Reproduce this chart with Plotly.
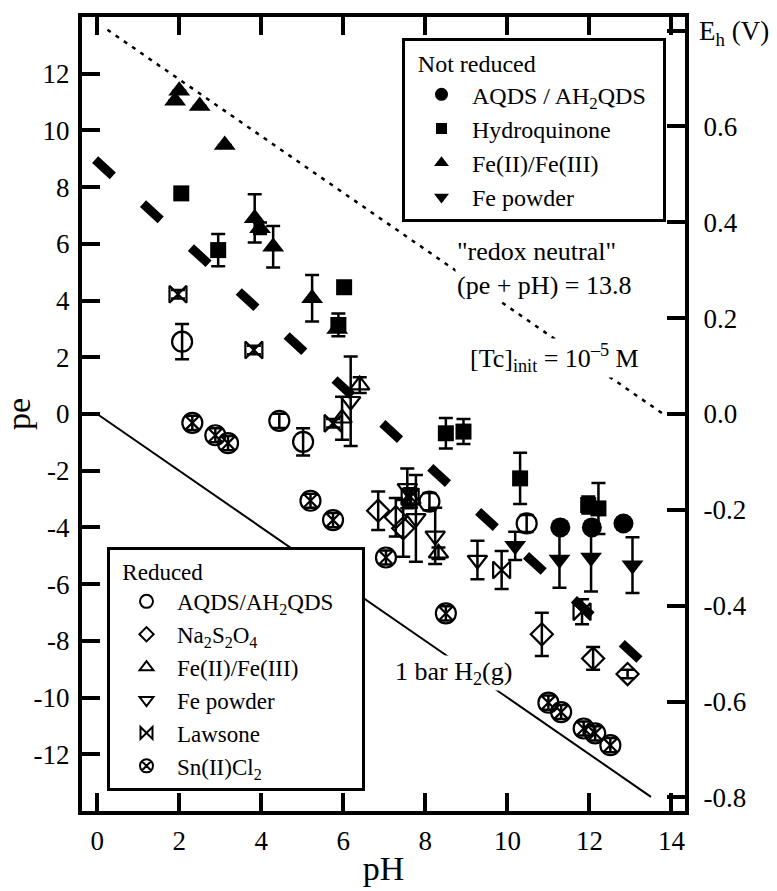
import plotly.graph_objects as go

FONT = "Liberation Serif, Times New Roman, serif"

# ---------------- data ----------------
# Not reduced (filled symbols)
aqds_nr_pH = [11.29, 12.06, 12.83]
aqds_nr_pe = [-4.0, -4.0, -3.86]

hq_pH = [2.05, 2.95, 5.88, 6.02, 8.50, 8.93, 10.31, 11.97, 12.22]
hq_pe = [7.78, 5.78, 3.14, 4.47, -0.68, -0.62, -2.27, -3.21, -3.33]
hq_err = [0.0, 0.57, 0.40, 0.0, 0.54, 0.44, 0.90, 0.30, 0.90]

fe_nr_pH = [1.90, 2.00, 2.50, 3.11, 3.84, 3.97, 4.29, 5.24, 5.85]
fe_nr_pe = [11.05, 11.40, 10.86, 9.49, 6.90, 6.55, 5.90, 4.08, 3.00]
fe_nr_err = [0.0, 0.0, 0.0, 0.0, 0.85, 0.20, 0.73, 0.82, 0.0]

fep_nr_pH = [10.19, 11.27, 12.04, 13.05]
fep_nr_pe = [-4.65, -5.13, -5.06, -5.33]
fep_nr_err = [0.50, 1.00, 1.20, 0.98]

# Reduced (open symbols)
aqds_r_pH = [2.07, 4.44, 5.02, 8.10, 10.47]
aqds_r_pe = [2.55, -0.24, -0.98, -3.09, -3.86]
aqds_r_err = [0.62, 0.25, 0.48, 0.30, 0.30]

na_pH = [6.85, 7.28, 7.46, 10.84, 12.09, 12.93]
na_pe = [-3.41, -3.64, -4.03, -7.77, -8.62, -9.17]
na_err = [0.68, 0.68, 1.00, 0.76, 0.40, 0.15]

fe_r_pH = [5.97, 6.40, 7.65, 8.32]
fe_r_pe = [-0.15, 1.02, -3.00, -4.91]
fe_r_err = [0.76, 0.28, 0.30, 0.20]

fep_r_pH = [6.18, 7.56, 7.77, 8.24, 9.27]
fep_r_pe = [0.45, -2.62, -3.68, -4.30, -5.15]
fep_r_err = [1.58, 0.70, 1.53, 0.99, 0.68]

law_pH = [1.97, 3.82, 5.75, 7.63, 9.86, 11.82]
law_pe = [4.22, 2.26, -0.33, -2.92, -5.50, -6.97]
law_err = [0.15, 0.15, 0.15, 0.30, 0.67, 0.44]

sn_pH = [2.32, 2.88, 3.19, 5.20, 5.75, 7.04, 8.50, 11.00, 11.31, 11.86, 12.14, 12.51]
sn_pe = [-0.31, -0.75, -1.03, -3.06, -3.74, -5.06, -7.03, -10.18, -10.51, -11.09, -11.26, -11.68]
sn_err = [0.25] * 12

# reference lines (end points)
neutral_pH = [0.25, 13.85]
neutral_pe = [13.55, -0.05]
h2_pH = [0.0, 13.5]
h2_pe = [0.0, -13.5]
tc_pH = [-0.05, 13.35]
tc_pe = [8.97, -8.83]

x_ticks = [0, 2, 4, 6, 8, 10, 12, 14]
pe_ticks = [-12, -10, -8, -6, -4, -2, 0, 2, 4, 6, 8, 10, 12]
eh_ticks = [-0.8, -0.6, -0.4, -0.2, 0.0, 0.2, 0.4, 0.6, 0.8]
EH_PER_PE = 0.05916

# ---------------- figure ----------------
W, H = 777, 891
ML, MR, MT, MB = 82, 92, 17, 80
PW, PH_ = W - ML - MR, H - MT - MB


def px(x):
    return (x - ML) / PW


def py(y):
    return (H - MB - y) / PH_


fig = go.Figure()


def add_series(xs, ys, errs, symbol, size, lw=0):
    ekw = None
    if errs is not None:
        ekw = dict(type="data", array=errs, visible=True, color="black",
                   thickness=2.5, width=7)
    fig.add_trace(go.Scatter(
        x=xs, y=ys, mode="markers", showlegend=False, error_y=ekw,
        marker=dict(symbol=symbol, size=size, color="black",
                    line=dict(color="black", width=lw)),
    ))


# reference lines underneath
fig.add_trace(go.Scatter(x=h2_pH, y=h2_pe, mode="lines", showlegend=False,
                         line=dict(color="black", width=2)))
fig.add_trace(go.Scatter(x=neutral_pH, y=neutral_pe, mode="lines", showlegend=False,
                         line=dict(color="black", width=2.5, dash="4px,6px")))

# reduced
add_series(aqds_r_pH, aqds_r_pe, aqds_r_err, "circle-open", 20, 2.2)
add_series(na_pH, na_pe, na_err, "diamond-open", 17, 2.2)
add_series(fe_r_pH, fe_r_pe, fe_r_err, "triangle-up-open", 17, 2.2)
add_series(fep_r_pH, fep_r_pe, fep_r_err, "triangle-down-open", 17, 2.2)
add_series(law_pH, law_pe, law_err, "bowtie-open", 17, 2.2)
add_series(sn_pH, sn_pe, sn_err, "circle-x-open", 20, 2.2)
# not reduced
add_series(aqds_nr_pH, aqds_nr_pe, None, "circle", 20)
add_series(hq_pH, hq_pe, hq_err, "square", 16)
add_series(fe_nr_pH, fe_nr_pe, fe_nr_err, "triangle-up", 19)
add_series(fep_nr_pH, fep_nr_pe, fep_nr_err, "triangle-down", 19)

# thick dashed Tc line on top
fig.add_trace(go.Scatter(x=tc_pH, y=tc_pe, mode="lines", showlegend=False,
                         line=dict(color="black", width=9, dash="24px,41px")))

# legend-only entries
NB = "\u00a0\u00a0"
leg1 = [("AQDS / AH<sub>2</sub>QDS" + NB, "circle", 13, 0),
        ("Hydroquinone", "square", 11, 0),
        ("Fe(II)/Fe(III)", "triangle-up", 13, 0),
        ("Fe powder", "triangle-down", 13, 0)]
leg2 = [("AQDS/AH<sub>2</sub>QDS" + NB + NB, "circle-open", 13, 2),
        ("Na<sub>2</sub>S<sub>2</sub>O<sub>4</sub>", "diamond-open", 11, 2),
        ("Fe(II)/Fe(III)", "triangle-up-open", 12, 2),
        ("Fe powder", "triangle-down-open", 12, 2),
        ("Lawsone", "bowtie-open", 12, 2),
        ("Sn(II)Cl<sub>2</sub>", "circle-x-open", 13, 2)]
for lg, items in (("legend", leg1), ("legend2", leg2)):
    for name, sym, sz, lw in items:
        fig.add_trace(go.Scatter(
            x=[None], y=[None], mode="markers", name=name, legend=lg,
            marker=dict(symbol=sym, size=sz, color="black",
                        line=dict(color="black", width=lw)),
        ))

# secondary axis carrier (invisible)
fig.add_trace(go.Scatter(x=[None], y=[None], yaxis="y2", showlegend=False))

tickfont = dict(family=FONT, size=27, color="black")
legfont1 = dict(family=FONT, size=24, color="black")
legfont2 = dict(family=FONT, size=23, color="black")

fig.update_layout(
    width=W, height=H,
    margin=dict(l=ML, r=MR, t=MT, b=MB, autoexpand=False),
    paper_bgcolor="white", plot_bgcolor="white",
    font=dict(family=FONT, color="black"),
    xaxis=dict(range=[-0.37, 14.33], tickvals=x_ticks,
               ticktext=[str(v) for v in x_ticks], automargin=False,
               ticks="inside", ticklen=18, tickwidth=4, tickcolor="black",
               showline=True, linewidth=4, linecolor="black", mirror="ticks",
               showgrid=False, zeroline=False, tickfont=tickfont,
               ticklabelstandoff=3,
               title=dict(text="pH", font=dict(family=FONT, size=34), standoff=2)),
    yaxis=dict(range=[-14, 14], tickvals=pe_ticks, automargin=False,
               ticktext=[str(v).replace("\u2212", "-") for v in pe_ticks],
               ticks="inside", ticklen=18, tickwidth=4, tickcolor="black",
               showline=True, linewidth=4, linecolor="black",
               showgrid=False, zeroline=False, tickfont=tickfont,
               ticklabelstandoff=3,
               title=dict(text="pe", font=dict(family=FONT, size=34), standoff=6)),
    yaxis2=dict(range=[-14 * EH_PER_PE, 14 * EH_PER_PE], overlaying="y", side="right",
                tickvals=eh_ticks, automargin=False,
                ticktext=[("%.1f" % v if v < 0.75 else "") for v in eh_ticks],
                ticks="inside", ticklen=18, tickwidth=4, tickcolor="black",
                showline=True, linewidth=4, linecolor="black",
                showgrid=False, zeroline=False, tickfont=tickfont,
                ticklabelstandoff=9),
    legend=dict(x=px(402), y=py(38), xanchor="left", yanchor="top",
                bgcolor="white", bordercolor="black", borderwidth=3,
                font=legfont1,
                title=dict(text="\u00a0\u2009Not reduced", font=legfont1),
                tracegroupgap=0, itemwidth=51, indentation=6),
    legend2=dict(x=px(107), y=py(547), xanchor="left", yanchor="top",
                 bgcolor="white", bordercolor="black", borderwidth=3,
                 font=legfont2,
                 title=dict(text="\u00a0\u2009Reduced", font=legfont2),
                 tracegroupgap=0, itemwidth=51, indentation=6),
    annotations=[
        dict(xref="paper", yref="paper", x=px(697), y=py(33), xanchor="left",
             yanchor="middle", showarrow=False, text="E<sub>h</sub> (V)",
             font=dict(family=FONT, size=27)),
        dict(xref="paper", yref="paper", x=px(455), y=py(268), xanchor="left",
             yanchor="middle", showarrow=False, align="left", bgcolor="white",
             text="\"redox neutral\"<br>(pe + pH) = 13.8",
             font=dict(family=FONT, size=26)),
        dict(xref="paper", yref="paper", x=px(468), y=py(358), xanchor="left",
             yanchor="middle", showarrow=False, bgcolor="white",
             text="[Tc]<sub>init</sub> = 10<sup>\u20135</sup> M",
             font=dict(family=FONT, size=26)),
        dict(xref="paper", yref="paper", x=px(393), y=py(673), xanchor="left",
             yanchor="middle", showarrow=False, bgcolor="white",
             text="1 bar H<sub>2</sub>(g)",
             font=dict(family=FONT, size=26)),
    ],
)

fig.write_html("out.html")
